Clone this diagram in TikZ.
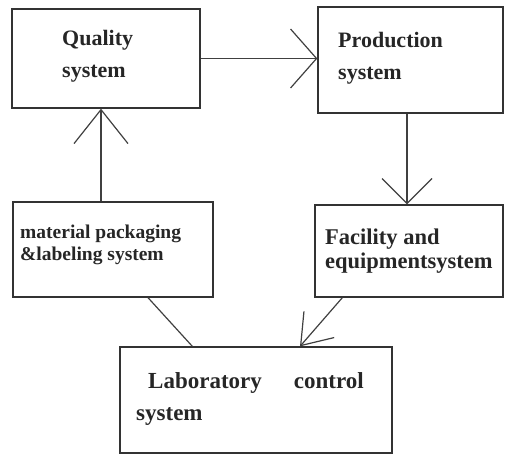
\documentclass[tikz,border=0pt]{standalone}
\usepackage{fontspec}
\setmainfont{Liberation Serif}
\usetikzlibrary{arrows.meta}
\tikzset{
	sysbox/.style={draw=black!80,line width=1.3pt,inner sep=0pt},
	systext/.style={anchor=base west,inner sep=0pt,align=left,font=\bfseries\fontsize{22}{32}\selectfont,text=black!85},
	link/.style={draw=black!75,line width=1.2pt}
}
\begin{document}
\begin{tikzpicture}[x=1pt,y=-1pt]
	\useasboundingbox (0,0) rectangle (505,455);
	% boxes
	\node[sysbox,minimum width=188pt,minimum height=99pt] (qual) at (106,58.5) {};
	\node[sysbox,minimum width=185pt,minimum height=106pt] (prod) at (410.5,60) {};
	\node[sysbox,minimum width=188pt,minimum height=92pt] (fac) at (409,251) {};
	\node[sysbox,minimum width=200pt,minimum height=95pt] (mat) at (113,249.5) {};
	\node[sysbox,minimum width=272pt,minimum height=106pt] (lab) at (256,400) {};
	% texts (anchored at the baseline of the last line)
	\node[systext] (qualtxt) at (62,77) {Quality\\system};
	\node[systext] (prodtxt) at (338,79) {Production\\system};
	\node[systext,font=\bfseries\fontsize{22.5}{24}\selectfont] (factxt) at (325,268) {Facility and\\equipmentsystem};
	\node[systext,font=\bfseries\fontsize{19.5}{22}\selectfont] (mattxt) at (20,260) {material packaging\\\&labeling system};
	\node[systext,font=\bfseries\fontsize{23}{32}\selectfont] (labtxt) at (136,420) {\hspace{12pt}Laboratory\hspace{32pt}control\\system};
	% connectors
	\draw[link,-{Straight Barb[length=26pt,width=59pt]}] (qual.east) -- (qual.east -| prod.west);
	\draw[link,-{Straight Barb[length=25pt,width=50pt]}] ([xshift=-3.5pt]prod.south) -- ([xshift=-3.5pt]prod.south |- fac.north);
	\draw[link,-{Straight Barb[length=34pt,width=54pt]}] ([xshift=-12pt]mat.north) -- ([xshift=-12pt]mat.north |- qual.south);
	\draw[link] ([xshift=35pt]mat.south) -- ([xshift=73pt]lab.north west);
	\draw[link,-{Straight Barb[length=28pt,width=40pt]}] ([xshift=28pt]fac.south west) -- ([xshift=44pt]lab.north);
\end{tikzpicture}
\end{document}
